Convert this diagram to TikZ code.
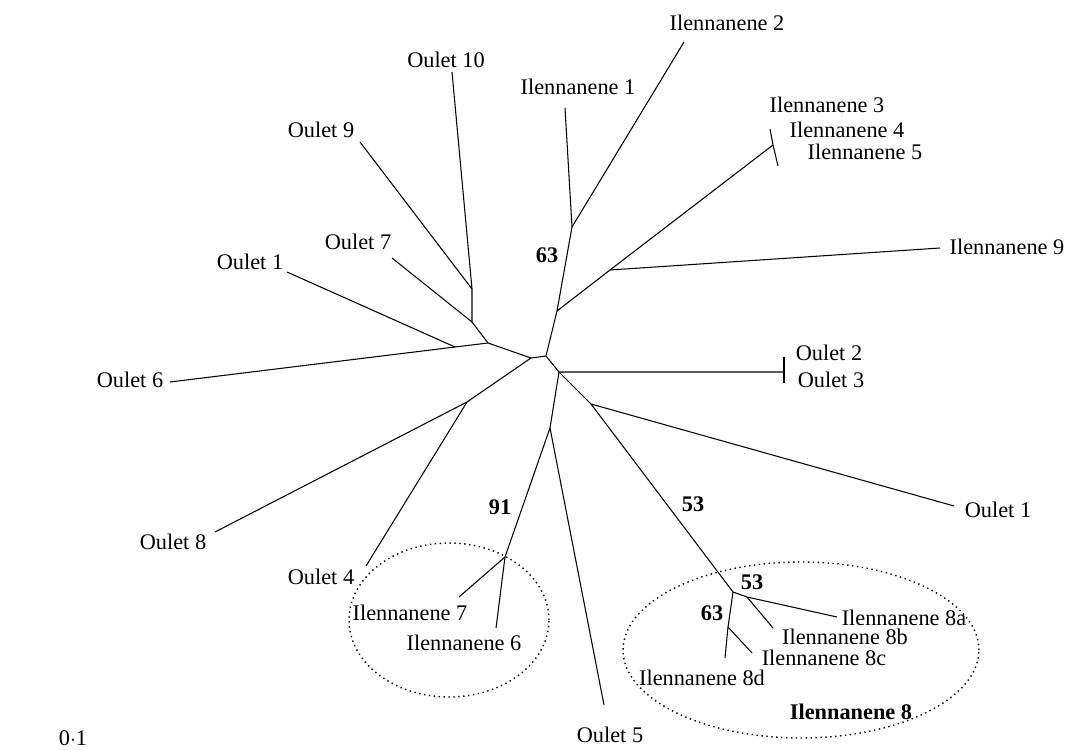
\documentclass[tikz,border=0pt]{standalone}
\usepackage{fontspec}
\setmainfont{Liberation Serif}
\usepackage{tikz}
\usetikzlibrary{positioning,calc}

\begin{document}
\begin{tikzpicture}[x=0.02cm,y=-0.02cm,
    every node/.style={font=\fontsize{12.7}{15}\selectfont,inner sep=0pt},
    branch/.style={line width=0.6pt},
    boot/.style={font=\fontsize{12.7}{15}\selectfont\bfseries},
    group/.style={dotted,line width=0.8pt}]
  \useasboundingbox (0,0) rectangle (1069,750);

  % inner points of the tree
  \coordinate (la) at (531,358);
  \coordinate (ra) at (546,356);
  \coordinate (rb) at (557,311);
  \coordinate (rc) at (572,227);
  \coordinate (rd) at (610,270);
  \coordinate (re) at (773,145);
  \coordinate (rf) at (559,372);
  \coordinate (rg) at (784,372);
  \coordinate (rh) at (591,404);
  \coordinate (ri) at (733,592);
  \coordinate (rj) at (747,597);
  \coordinate (rk) at (728,627);
  \coordinate (rl) at (550,428);
  \coordinate (rm) at (505,557);
  \coordinate (lb) at (488,343);
  \coordinate (lc) at (455,347);
  \coordinate (ld) at (472,322);
  \coordinate (le) at (472,289);
  \coordinate (lf) at (467,402);

  % tips
  \coordinate (o10) at (452,72);
  \coordinate (o9) at (360,142);
  \coordinate (o7) at (392,258);
  \coordinate (o1l) at (287,272);
  \coordinate (o6) at (170,382);
  \coordinate (o8) at (215,532);
  \coordinate (o4) at (366,566);
  \coordinate (i7) at (459,597);
  \coordinate (i6) at (496,628);
  \coordinate (o5) at (604,705);
  \coordinate (i8d) at (725,658);
  \coordinate (i8c) at (752,653);
  \coordinate (i8b) at (773,628);
  \coordinate (i8a) at (837,617);
  \coordinate (o1r) at (954,506);
  \coordinate (o2) at (784,357);
  \coordinate (o3) at (784,383);
  \coordinate (i9) at (940,248);
  \coordinate (i3) at (770,129);
  \coordinate (i5) at (778,166);
  \coordinate (i1) at (565,108);
  \coordinate (i2) at (684,42);

  \draw[branch] (la) -- (ra) -- (rb) -- (rc) -- (i1);
  \draw[branch] (rc) -- (i2);
  \draw[branch] (rb) -- (rd) -- (re);
  \draw[branch] (rd) -- (i9);
  \draw[branch] (i3) -- (re) -- (i5);
  \draw[branch] (ra) -- (rf) -- (rg);
  \draw[branch] (o2) -- (o3);
  \draw[branch] (rf) -- (rh) -- (o1r);
  \draw[branch] (rh) -- (ri) -- (rj) -- (i8a);
  \draw[branch] (rj) -- (i8b);
  \draw[branch] (ri) -- (rk) -- (i8d);
  \draw[branch] (rk) -- (i8c);
  \draw[branch] (rf) -- (rl) -- (o5);
  \draw[branch] (rl) -- (rm) -- (i7);
  \draw[branch] (rm) -- (i6);
  \draw[branch] (la) -- (lb) -- (lc) -- (o6);
  \draw[branch] (lc) -- (o1l);
  \draw[branch] (lb) -- (ld) -- (le) -- (o10);
  \draw[branch] (ld) -- (o7);
  \draw[branch] (le) -- (o9);
  \draw[branch] (la) -- (lf) -- (o8);
  \draw[branch] (lf) -- (o4);

  % clusters
  \draw[group] (449,620) ellipse [x radius=2cm, y radius=1.54cm];
  \draw[group] (801,650) ellipse [x radius=3.56cm, y radius=1.76cm];

  \node (lo10) at (446,60) {Oulet 10};
  \node (lo9) at (321,130) {Oulet 9};
  \node (lo7) at (358,242) {Oulet 7};
  \node (lo1l) at (250,262) {Oulet 1};
  \node (lo6) at (130,380) {Oulet 6};
  \node (lo8) at (173,542) {Oulet 8};
  \node (lo4) at (321,577) {Oulet 4};
  \node (li7) at (410,613) {Ilennanene 7};
  \node (li6) at (464,643) {Ilennanene 6};
  \node (lo5) at (610,735) {Oulet 5};
  \node (li8d) at (702,678) {Ilennanene 8d};
  \node (li8c) at (824,658) {Ilennanene 8c};
  \node (li8b) at (845,637) {Ilennanene 8b};
  \node (li8a) at (904,618) {Ilennanene 8a};
  \node[boot] (li8) at (851,712) {Ilennanene 8};
  \node (lo1r) at (998,510) {Oulet 1};
  \node (lo2) at (829,353) {Oulet 2};
  \node (lo3) at (831,380) {Oulet 3};
  \node (li9) at (1007,247) {Ilennanene 9};
  \node (li3) at (827,105) {Ilennanene 3};
  \node (li4) at (847,130) {Ilennanene 4};
  \node (li5) at (865,152) {Ilennanene 5};
  \node (li1) at (578,87) {Ilennanene 1};
  \node (li2) at (727,23) {Ilennanene 2};

  % bootstrap values
  \node[boot] (b63) at (547,255) {63};
  \node[boot] (b91) at (500,507) {91};
  \node[boot] (b53) at (693,504) {53};
  \node[boot] (b53s) at (752,582) {53};
  \node[boot] (b63s) at (712,613) {63};

  \node (scale) at (73,738) {0$\cdot$1};
\end{tikzpicture}
\end{document}
